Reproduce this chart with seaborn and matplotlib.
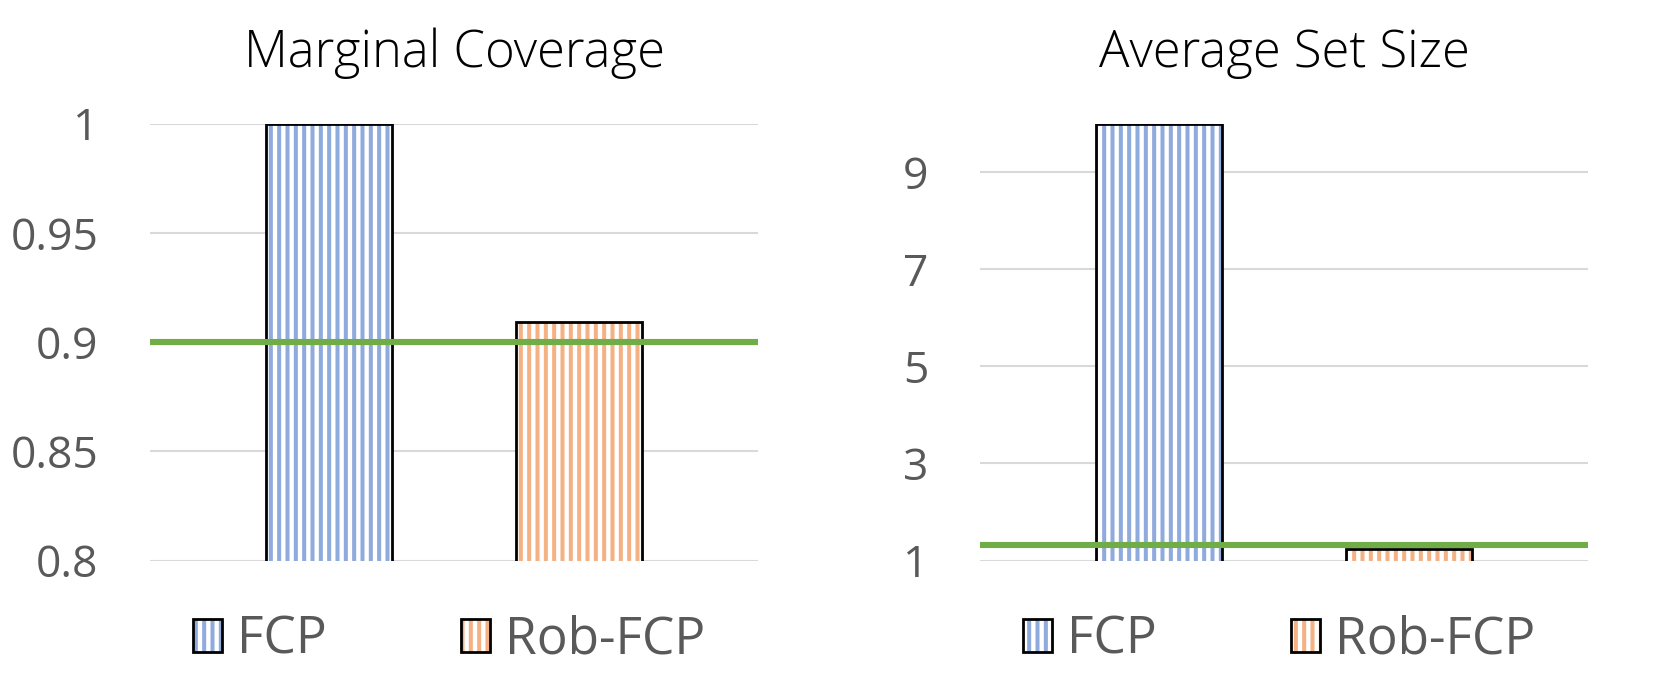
import matplotlib
matplotlib.use("Agg")
import matplotlib.pyplot as plt
import seaborn as sns
from matplotlib.patches import Patch, Rectangle
from matplotlib.legend_handler import HandlerTuple

# données
methods = ["FCP", "Rob-FCP"]
coverage = [1.0, 0.909]
set_size = [10.0, 1.24]
coverage_target = 0.9
size_target = 1.32
titles = ["Marginal Coverage", "Average Set Size"]
cov_ticks = [0.8, 0.85, 0.9, 0.95, 1.0]
cov_labels = ["0.8", "0.85", "0.9", "0.95", "1"]
size_ticks = [1, 3, 5, 7, 9]

colors = ["#8FAADC", "#F4B183"]
green = "#70AD47"
grey = "#595959"

sns.set_style("white")
plt.rcParams["font.family"] = ["Open Sans", "DejaVu Sans"]
plt.rcParams["hatch.linewidth"] = 2.9

fig = plt.figure(figsize=(16.61, 6.84), dpi=100)
ax1 = fig.add_axes([150 / 1661, 123.5 / 684, 608 / 1661, 437 / 684])
ax2 = fig.add_axes([980 / 1661, 123.5 / 684, 608 / 1661, 437 / 684])


def draw(ax, values, target, ylim, ticks, labels, title):
    sns.barplot(x=methods, y=values, hue=methods, palette=colors, ax=ax,
                width=0.504, legend=False, zorder=2)
    for p, c in zip(ax.patches, colors):
        p.set_facecolor("white")
        p.set_edgecolor(c)
        p.set_linewidth(0)
        p.set_hatch("||")
        ax.add_patch(Rectangle(p.get_xy(), p.get_width(), p.get_height(),
                               fill=False, ec="black", lw=2, zorder=3))
    ax.axhline(target, color=green, lw=4.4, zorder=4)
    ax.set_xlim(-0.716, 1.716)
    ax.set_ylim(*ylim)
    ax.set_yticks(ticks)
    ax.set_yticklabels(labels)
    ax.set_xticks([])
    ax.set_xlabel("")
    ax.set_ylabel("")
    ax.grid(axis="y", color="#D9D9D9", lw=1.5, zorder=0)
    ax.set_axisbelow(True)
    sns.despine(ax=ax, left=True, bottom=True)
    ax.tick_params(axis="y", length=0, pad=37, labelsize=32, labelcolor=grey)
    ax.set_title(title, fontsize=36.5, pad=41, color="black", fontweight="light")

    handles = []
    for c in colors:
        h1 = Patch(facecolor="white", edgecolor=c, hatch="||", lw=0)
        h2 = Patch(facecolor="none", edgecolor="black", lw=2)
        handles.append((h1, h2))
    ax.legend(handles, methods, handler_map={tuple: HandlerTuple(ndivide=1)},
              loc="center", bbox_to_anchor=(0.492, -0.182), ncol=2,
              frameon=False, fontsize=37, labelcolor=grey,
              handlelength=0.565, handleheight=0.6, handletextpad=0.3,
              columnspacing=2.6, borderaxespad=0)


draw(ax1, coverage, coverage_target, (0.8, 1.0), cov_ticks, cov_labels, titles[0])
draw(ax2, set_size, size_target, (1, 10), size_ticks,
     [str(t) for t in size_ticks], titles[1])

fig.savefig("out.png", dpi=100)
